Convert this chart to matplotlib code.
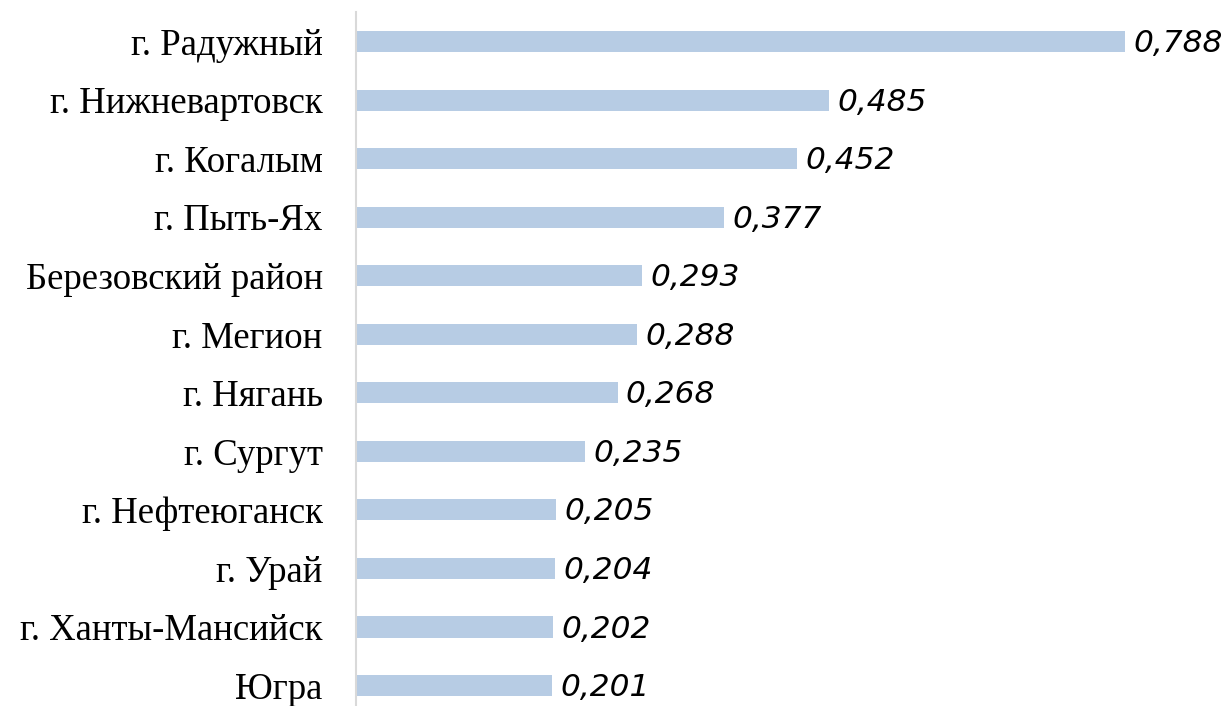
import matplotlib
matplotlib.use("Agg")
import matplotlib.pyplot as plt

categories = ["г. Радужный", "г. Нижневартовск", "г. Когалым", "г. Пыть-Ях",
              "Березовский район", "г. Мегион", "г. Нягань", "г. Сургут",
              "г. Нефтеюганск", "г. Урай", "г. Ханты-Мансийск", "Югра"]
values = [0.788, 0.485, 0.452, 0.377, 0.293, 0.288, 0.268, 0.235,
          0.205, 0.204, 0.202, 0.201]
value_labels = ["0,788", "0,485", "0,452", "0,377", "0,293", "0,288", "0,268",
                "0,235", "0,205", "0,204", "0,202", "0,201"]

W, H = 1232, 706
fig = plt.figure(figsize=(W / 100, H / 100), dpi=100)
left = 356 / W
slot = 58.55
top_px = 41.5 - slot / 2
ax_h = len(categories) * slot
ax = fig.add_axes([left, 1 - (top_px + ax_h) / H, 1 - left, ax_h / H])

pos = list(range(len(categories)))
ax.barh(pos, values, height=0.36, color="#B7CCE4")
ax.set_ylim(len(categories) - 0.5, -0.5)
ax.set_xlim(0, (W - 356) / 976)

for y, v, t in zip(pos, values, value_labels):
    ax.annotate(t, (v, y), xytext=(8, -2), textcoords="offset pixels",
                ha="left", va="center", fontsize=22.5, style="italic",
                family="DejaVu Sans", color="#000000")

ax.set_yticks(pos)
ax.set_yticklabels(categories, family="Liberation Serif", fontsize=26.5)
ax.tick_params(axis="y", length=0, pad=24)
ax.set_xticks([])
for s in ["top", "right", "bottom"]:
    ax.spines[s].set_visible(False)
ax.spines["left"].set_color("#D9D9D9")
ax.spines["left"].set_linewidth(1.5)

fig.savefig("out.png", dpi=100)
